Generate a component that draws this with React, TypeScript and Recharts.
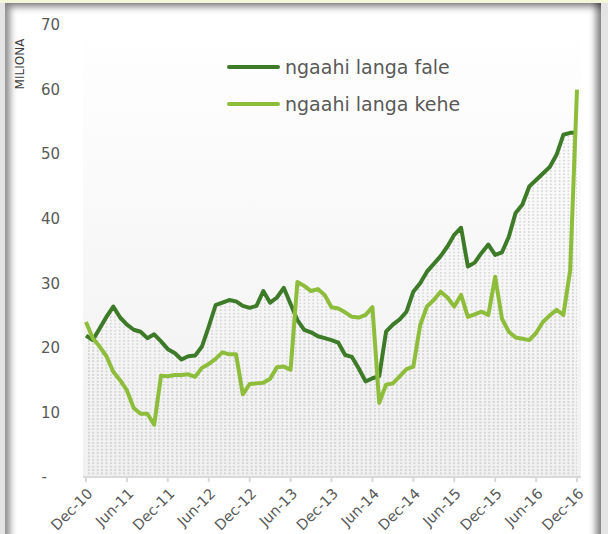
import { ComposedChart, Line, Area, XAxis, YAxis, CartesianGrid } from 'recharts';

const MONTHS = ['Jan', 'Feb', 'Mar', 'Apr', 'May', 'Jun', 'Jul', 'Aug', 'Sep', 'Oct', 'Nov', 'Dec'];
// monthly categories Dec-10 .. Dec-16
const categories = Array.from({ length: 73 }, (_, i) => `${MONTHS[(11 + i) % 12]}-${10 + Math.floor((11 + i) / 12)}`);

// ngaahi langa fale (dark green)
const fale = [
  21.9, 21.2, 23.0, 24.8, 26.4, 24.7, 23.6, 22.8, 22.5, 21.5, 22.1, 21.0,
  19.8, 19.2, 18.2, 18.7, 18.8, 20.2, 23.3, 26.6, 27.0, 27.4, 27.2, 26.5,
  26.2, 26.5, 28.8, 27.0, 27.8, 29.3, 26.8, 24.3, 22.8, 22.4, 21.8, 21.5,
  21.2, 20.8, 18.9, 18.6, 16.8, 14.8, 15.3, 15.6, 22.5, 23.6, 24.4, 25.6,
  28.7, 30.0, 31.8, 33.0, 34.2, 35.7, 37.5, 38.6, 32.6, 33.2, 34.7, 36.0,
  34.4, 34.8, 37.2, 40.9, 42.2, 45.0, 46.0, 47.0, 48.0, 49.9, 53.0, 53.3,
  53.3,
];

// ngaahi langa kehe (light green)
const kehe = [
  24.0, 21.5, 20.2, 18.7, 16.3, 15.0, 13.4, 10.7, 9.8, 9.8, 8.1, 15.7,
  15.6, 15.8, 15.8, 15.9, 15.5, 16.9, 17.5, 18.3, 19.3, 19.0, 19.0, 12.8,
  14.4, 14.5, 14.6, 15.2, 17.0, 17.1, 16.6, 30.2, 29.6, 28.8, 29.1, 28.2,
  26.3, 26.1, 25.5, 24.8, 24.7, 25.1, 26.3, 11.5, 14.3, 14.5, 15.6, 16.7,
  17.1, 23.5, 26.4, 27.4, 28.7, 27.8, 26.4, 28.2, 24.8, 25.2, 25.6, 25.1,
  31.0, 24.5, 22.5, 21.6, 21.4, 21.2, 22.3, 24.0, 25.0, 25.9, 25.1, 32.0,
  60.0,
];

const yTicks = [0, 10, 20, 30, 40, 50, 60, 70];

const DARK = '#3d7b28';
const LIGHT = '#8dbd3b';
const TEXT = '#595959';
const FONT = '"DejaVu Sans", Verdana, sans-serif';

const data = categories.map((m, i) => ({ m, fale: fale[i], kehe: kehe[i] }));

const YTick = ({ x, y, payload }: any) => (
  <text x={payload.value === 0 ? x - 13 : x} y={y} dy="0.35em" textAnchor="end" fontSize={15} fill={TEXT} fontFamily={FONT}>
    {payload.value === 0 ? '-' : payload.value}
  </text>
);

const XTick = ({ x, y, payload }: any) => {
  const px = x + 4;
  const py = y + 7;
  return (
    <text x={px} y={py} dy="0.35em" transform={`rotate(-45 ${px} ${py})`} textAnchor="end" fontSize={14.5} fill={TEXT} fontFamily={FONT}>
      {payload.value}
    </text>
  );
};

const legendItems = [
  { name: 'ngaahi langa fale', color: DARK },
  { name: 'ngaahi langa kehe', color: LIGHT },
];

export default function App() {
  return (
    <div style={{ position: 'fixed', left: 0, top: 0, width: 608, height: 534, background: '#e4e4e4', overflow: 'hidden' }}>
      <div style={{ position: 'absolute', left: 0, top: 0, width: 608, height: 3, background: '#f3f6d9' }} />
      <div
        style={{
          position: 'absolute', left: 5, top: 3, width: 596, height: 560, background: '#fff',
          boxShadow: 'inset 8px 7px 7px -3px rgba(0,0,0,0.45), inset -8px 0 7px -3px rgba(0,0,0,0.5)',
        }}
      />
      <div style={{ position: 'absolute', left: 0, top: 0 }}>
        <ComposedChart width={608} height={534} data={data} margin={{ top: 25, right: 27, bottom: 0, left: 0 }}>
          <defs>
            <linearGradient id="plotBg" x1="0" y1="0" x2="0" y2="1">
              <stop offset="0%" stopColor="#ffffff" />
              <stop offset="100%" stopColor="#f0f0f0" />
            </linearGradient>
            <pattern id="dots" width="4.4" height="3.4" patternUnits="userSpaceOnUse">
              <rect width="1.6" height="1.6" fill="#d4d4d4" />
            </pattern>
          </defs>
          <CartesianGrid horizontal={false} vertical={false} fill="url(#plotBg)" stroke="none" />
          <XAxis
            dataKey="m"
            height={57}
            interval={5}
            tick={<XTick />}
            tickSize={5}
            tickMargin={2}
            axisLine={{ stroke: '#d9d9d9', strokeWidth: 2 }}
            tickLine={{ stroke: '#d9d9d9', strokeWidth: 2 }}
            padding={{ left: 3, right: 4 }}
          />
          <YAxis
            domain={[0, 70]}
            ticks={yTicks}
            width={83}
            axisLine={false}
            tickLine={false}
            tickSize={0}
            tickMargin={23}
            tick={<YTick />}
            interval={0}
          />
          <Area type="linear" dataKey="fale" stroke="none" fill="url(#dots)" fillOpacity={1} isAnimationActive={false} />
          <Area type="linear" dataKey="kehe" stroke="none" fill="url(#dots)" fillOpacity={1} isAnimationActive={false} />
          <Line type="linear" dataKey="fale" stroke={DARK} strokeWidth={4} dot={false} activeDot={false} strokeLinejoin="round" isAnimationActive={false} />
          <Line type="linear" dataKey="kehe" stroke={LIGHT} strokeWidth={4} dot={false} activeDot={false} strokeLinejoin="round" isAnimationActive={false} />
        </ComposedChart>
      </div>
      <div
        style={{
          position: 'absolute', left: 20, top: 64, transform: 'translate(-50%, -50%) rotate(-90deg)',
          fontFamily: FONT, fontSize: 12, color: '#404040', whiteSpace: 'nowrap',
        }}
      >
        MILIONA
      </div>
      <div style={{ position: 'absolute', left: 227, top: 48, fontFamily: FONT, fontSize: 19, color: TEXT }}>
        {legendItems.map((it) => (
          <div key={it.name} style={{ display: 'flex', alignItems: 'center', height: 37 }}>
            <div style={{ width: 53, height: 4, borderRadius: 2, background: it.color, marginRight: 5 }} />
            <span style={{ lineHeight: '28px' }}>{it.name}</span>
          </div>
        ))}
      </div>
    </div>
  );
}
